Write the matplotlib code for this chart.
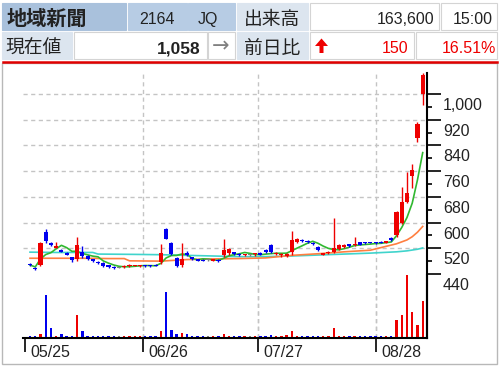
import numpy as np
import pandas as pd
import matplotlib
matplotlib.use("Agg")
import matplotlib.pyplot as plt
from matplotlib import font_manager
from matplotlib.patches import Rectangle, Polygon
from matplotlib.lines import Line2D

# --- データ (チャートから読み取った値) ---
date_labels = ["05/25", "06/26", "07/27", "08/28"]
date_ticks = [-1, 21.5, 43.5, 66]

opens = [472, 460, 468, 571, 537, 522, 515, 505, 492, 488,
         507, 495, 486, 478, 475, 468, 462, 460, 462, 465,
         466, 465, 467, 466, 468, 478, 580, 535, 490, 467,
         505, 492, 486, 484, 483, 482, 484, 498, 504, 508,
         501, 498, 500, 501, 505, 515, 530, 503, 498, 496,
         508, 540, 546, 542, 538, 524, 500, 504, 510, 519,
         525, 532, 529, 539, 538, 539, 538, 540, 538, 553,
         561, 600, 665, 744, 862, 1000]
closes = [468, 456, 536, 542, 530, 528, 510, 500, 485, 530,
          495, 488, 480, 474, 466, 461, 459, 460, 466, 468,
          467, 466, 465, 464, 466, 505, 550, 502, 466, 488,
          498, 486, 482, 482, 483, 486, 480, 514, 519, 503,
          499, 500, 500, 502, 500, 507, 508, 506, 501, 502,
          545, 548, 544, 540, 532, 514, 504, 508, 522, 529,
          531, 527, 534, 531, 536, 537, 536, 537, 542, 546,
          634, 665, 692, 765, 908, 1058]
highs = [474, 462, 540, 581, 541, 540, 518, 507, 494, 555,
         527, 500, 488, 480, 478, 469, 464, 461, 468, 470,
         468, 468, 469, 468, 470, 534, 582, 540, 492, 538,
         512, 494, 488, 486, 486, 488, 486, 550, 522, 510,
         504, 502, 503, 504, 507, 517, 532, 510, 505, 504,
         575, 552, 550, 546, 540, 526, 506, 512, 614, 532,
         534, 534, 555, 541, 540, 541, 540, 542, 544, 556,
         636, 712, 758, 782, 912, 1064]
lows = [466, 454, 465, 536, 528, 520, 508, 498, 478, 482,
        490, 484, 476, 470, 462, 458, 457, 458, 460, 463,
        464, 462, 463, 462, 465, 472, 548, 498, 463, 462,
        496, 484, 480, 480, 480, 480, 478, 494, 500, 500,
        497, 496, 496, 497, 498, 505, 505, 500, 493, 494,
        500, 536, 540, 536, 530, 512, 498, 502, 506, 516,
        522, 524, 527, 529, 534, 535, 534, 535, 536, 544,
        555, 596, 660, 707, 851, 966]
volumes = [7500, 7500, 17500, 187000, 44000, 8800, 17500, 8800, 8800, 102000,
           29000, 8800, 8800, 8800, 8800, 8800, 7500, 7500, 8800, 8800,
           8800, 8800, 7500, 7500, 7500, 29000, 200000, 35000, 17500, 22000,
           17500, 8800, 8800, 7500, 7500, 8800, 8800, 17500, 8800, 8800,
           7500, 7500, 7500, 7500, 8800, 8800, 13000, 8800, 8800, 14500,
           31000, 8800, 8800, 8800, 8800, 8800, 8800, 7500, 44000, 8800,
           8800, 7500, 8800, 7500, 7500, 7500, 7500, 7500, 7500, 7500,
           79000, 101000, 276000, 115000, 57000, 163600]

# 中期・長期移動平均 (読み取り点)
ma25_idx = [0, 5, 10, 15, 18, 19, 25, 30, 35, 40, 45, 50, 55, 60, 65, 69, 70, 71, 72, 73, 74, 75]
ma25_val = [489, 489, 489, 488, 488, 481, 480, 485, 487, 488, 490, 498, 503, 509, 514, 530, 534, 540, 546, 556, 570, 588]
ma75_idx = [0, 5, 12, 13, 20, 25, 30, 35, 40, 45, 50, 55, 60, 65, 70, 72, 74, 75]
ma75_val = [508, 507, 507, 502, 501, 500, 498, 496, 494, 494, 496, 499, 502, 505, 509, 512, 517, 521]

price_ticks = [440, 520, 600, 680, 760, 840, 920, 1000]
price_minor = [480, 560, 640, 720, 800, 880, 960]

# ヘッダー
header_name = "地域新聞"
header_code = "2164"
header_market = "JQ"
header_vol_label = "出来高"
header_vol = "163,600"
header_time = "15:00"
header_price_label = "現在値"
header_price = "1,058"
header_diff_label = "前日比"
header_diff = "150"
header_pct = "16.51%"

W, H = 500, 367
BAR_X0, BAR_DX = 30, 5.236        # 1本目の位置と間隔 (px)
P_REF, P_Y, P_SCALE = 1000, 94, 0.32143   # 1000円 = y94px, px/円

RED = '#ee0000'
BLUE = '#0000ee'
GRAY = '#808080'
GRID = '#c4c4c4'


def fx(px):
    return px / W


def fy(py):
    return 1 - py / H


def bar_at(px):
    return (px - BAR_X0) / BAR_DX


def price_at(py):
    return P_REF - (py - P_Y) / P_SCALE


names = {f.name for f in font_manager.fontManager.ttflist}
if 'Liberation Sans Narrow' in names:
    num_font, num_size = 'Liberation Sans Narrow', 13
else:
    num_font, num_size = 'Liberation Sans', 11.5
cjk_font = 'Noto Sans CJK JP'

fig = plt.figure(figsize=(W / 100, H / 100), dpi=100)

# 外枠と赤線
fig.add_artist(Rectangle((fx(2), fy(364)), 495 / W, 301 / H, transform=fig.transFigure,
                         facecolor='none', edgecolor='#b8b8b8', lw=1))
fig.add_artist(Line2D([fx(3), fx(497)], [fy(62), fy(62)], transform=fig.transFigure,
                      color='#e00000', lw=1.8))

# ヘッダーのセル
cells = [
    (2, 3, 126, 30, '#a9c1dc'), (128, 3, 187, 30, '#b7cce4'), (188, 3, 235, 30, '#b7cce4'),
    (237, 3, 308, 30, '#dce5ef'), (310, 3, 439, 30, 'white'), (441, 3, 497, 30, 'white'),
    (2, 32, 72, 59, '#dce5ef'), (74, 32, 207, 59, 'white'), (208, 32, 235, 59, 'white'),
    (237, 32, 308, 59, '#dce5ef'), (310, 32, 414, 59, 'white'), (416, 32, 497, 59, 'white'),
]
for x0, y0, x1, y1, c in cells:
    fig.add_artist(Rectangle((fx(x0), fy(y1)), (x1 - x0) / W, (y1 - y0) / H,
                             transform=fig.transFigure, facecolor=c,
                             edgecolor='#d4d4d4' if c == 'white' else c, lw=0.8))

txt = dict(va='baseline', color='#222222')
fig.text(fx(7), fy(25), header_name, family=cjk_font, fontsize=14.5, weight='bold', **txt)
fig.text(fx(157), fy(24), header_code, family=num_font, fontsize=num_size, ha='center', **txt)
fig.text(fx(208), fy(24), header_market, family=num_font, fontsize=num_size, ha='center', **txt)
fig.text(fx(272), fy(25), header_vol_label, family=cjk_font, fontsize=13.5, ha='center', **txt)
fig.text(fx(434), fy(24), header_vol, family=num_font, fontsize=num_size, ha='right', **txt)
fig.text(fx(493), fy(24), header_time, family=num_font, fontsize=num_size, ha='right', **txt)
fig.text(fx(5), fy(54), header_price_label, family=cjk_font, fontsize=13.5, **txt)
fig.text(fx(200), fy(53), header_price, family=num_font, fontsize=num_size + 1,
         weight='bold', ha='right', **txt)
fig.text(fx(221), fy(46.5), "→", family='DejaVu Sans', fontsize=15, ha='center',
         va='center', color='#808080')
fig.text(fx(272), fy(54), header_diff_label, family=cjk_font, fontsize=13.5, ha='center', **txt)
fig.text(fx(408), fy(53), header_diff, family=num_font, fontsize=num_size, ha='right',
         va='baseline', color=RED)
fig.text(fx(496), fy(53), header_pct, family=num_font, fontsize=num_size, ha='right',
         va='baseline', color=RED)

# 上向き矢印
arrow = [(315, 46), (321.5, 38.5), (328, 46), (323.5, 46), (323.5, 53), (319.5, 53), (319.5, 46)]
fig.add_artist(Polygon([(fx(a), fy(b)) for a, b in arrow], closed=True,
                       transform=fig.transFigure, facecolor=RED, edgecolor='none'))

# 株価と出来高の軸
ax = fig.add_axes([fx(23), fy(338), (427 - 23) / W, (338 - 73) / H])
axv = fig.add_axes([fx(23), fy(338), (427 - 23) / W, (338 - 275) / H])
axv.patch.set_alpha(0)

x = np.arange(len(closes))
o = np.array(opens)
c = np.array(closes)
colors = [RED if cc > oo else BLUE if cc < oo else GRAY for oo, cc in zip(opens, closes)]

for a in (ax, axv):
    a.set_xlim(bar_at(23), bar_at(427))
ax.set_ylim(price_at(338), price_at(73))
axv.set_ylim(0, max(volumes))

# グリッド (点線)
for v in price_ticks[1:]:
    ax.axhline(v, color=GRID, lw=1, ls=(0, (3, 2.5)), zorder=0)
for t in date_ticks[1:]:
    ax.axvline(t, color=GRID, lw=1, ls=(0, (3, 2.5)), zorder=0)
    axv.axvline(t, color=GRID, lw=1, ls=(0, (3, 2.5)), zorder=0)

# 移動平均線
ma5 = pd.Series(closes).rolling(5, min_periods=1).mean()
ax.plot(ma75_idx, ma75_val, color='#40d4cc', lw=1.2, zorder=2)
ax.plot(ma25_idx, ma25_val, color='#ff7f40', lw=1.2, zorder=2)
ax.plot(x, ma5, color='#30b830', lw=1.2, zorder=2)

# ローソク足
ax.vlines(x, lows, highs, colors=colors, lw=1, zorder=3)
body_h = np.maximum(np.abs(c - o), 3)
ax.bar(x, body_h, bottom=np.minimum(o, c), width=0.78, color=colors, lw=0, zorder=4)

# 出来高
axv.bar(x, volumes, width=0.45, color=colors, lw=0)

# 軸まわり
ax.yaxis.tick_right()
ax.set_yticks(price_ticks)
ax.set_yticks(price_minor, minor=True)
ax.tick_params(axis='y', which='major', length=10, width=1.2, direction='out', labelright=False)
ax.tick_params(axis='y', which='minor', length=3.6, width=1.2, direction='out', labelright=False)
ax.tick_params(axis='x', which='both', bottom=False, labelbottom=False)
for s in ('left', 'top', 'bottom'):
    ax.spines[s].set_visible(False)
ax.spines['right'].set_linewidth(1.5)
ax.patch.set_alpha(0)

axv.set_yticks([])
axv.set_xticks(date_ticks)
axv.tick_params(axis='x', length=10, width=1.2, direction='out', labelbottom=False)
for s in ('left', 'top'):
    axv.spines[s].set_visible(False)
axv.spines['bottom'].set_linewidth(1.5)
axv.spines['right'].set_linewidth(1.5)

for v in price_ticks:
    ax.annotate(f"{v:,}", xy=(1, v), xycoords=('axes fraction', 'data'),
                xytext=(16 * 0.72, -16 * 0.72), textcoords='offset points',
                ha='left', va='baseline', family=num_font, fontsize=num_size,
                color='#222222', annotation_clip=False)

for t, lbl in zip(date_ticks, date_labels):
    axv.annotate(lbl, xy=(t, 0), xycoords=('data', 'axes fraction'),
                 xytext=(6 * 0.72, -19 * 0.72), textcoords='offset points',
                 ha='left', va='baseline', family=num_font, fontsize=num_size,
                 color='#222222', annotation_clip=False)

fig.savefig("out.png", dpi=100)
plt.close(fig)
